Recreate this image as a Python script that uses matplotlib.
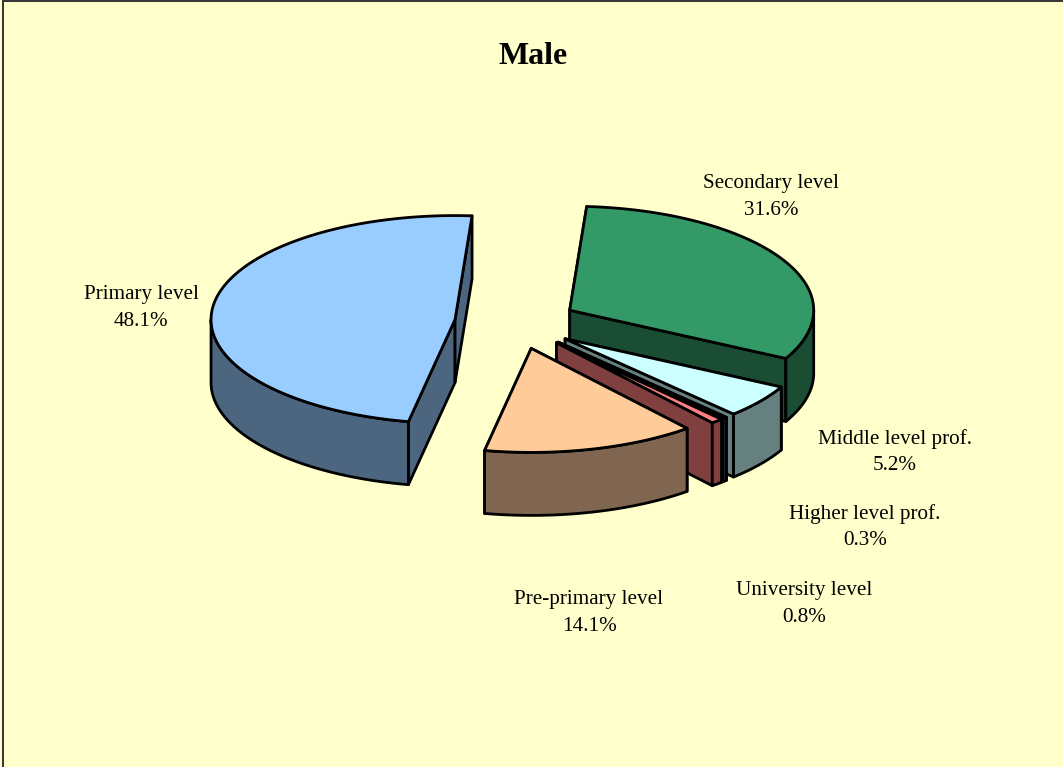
#!/usr/bin/env python3
# -*- coding: utf-8 -*-
"""Exploded 3D pie, education level, male"""
import numpy as np
import matplotlib.pyplot as plt
from matplotlib.patches import Polygon, Rectangle

# clockwise from the start angle
labels = ['Secondary level', 'Middle level prof.', 'Higher level prof.',
          'University level', 'Pre-primary level', 'Primary level']
values = [31.6, 5.2, 0.3, 0.8, 14.1, 48.1]
top_colors = ['#339966', '#CCFFFF', '#666699', '#FF8080', '#FFCC99', '#99CCFF']
side_colors = ['#1A4D33', '#668080', '#33334D', '#804040', '#806650', '#4D6680']
label_pos = [(771, 197), (895, 452), (865, 527), (804, 604), (589, 613), (141, 308)]

# projection of the pie in pixels
cx, cy = 516, 323
rx, ry = 244, 104
depth = 63
explode = 0.252
start = 4.0
lw = 2.0

plt.rcParams['font.family'] = ['Liberation Serif', 'DejaVu Serif']

fig = plt.figure(figsize=(10.63, 7.67), dpi=100, facecolor='#FFFFCC')
ax = fig.add_axes([0, 0, 1, 1])
ax.set_xlim(0, 1063)
ax.set_ylim(767, 0)
ax.axis('off')

# figure border, bottom and right run off the picture
ax.add_patch(Rectangle((2.5, 0.5), 1100, 800, fc='#FFFFCC', ec='#333333', lw=1.4, zorder=0))


def ell(t):
    t = np.radians(t)
    return rx * np.sin(t), -ry * np.cos(t)


def add_poly(pts, fc, z):
    ax.add_patch(Polygon(pts, closed=True, fc=fc, ec='black', lw=lw, joinstyle='round', zorder=z))


total = sum(values)
sweeps = [v / total * 360 for v in values]
t0 = start
z = 1
for v, sweep, top, side in zip(values, sweeps, top_colors, side_colors):
    t1 = t0 + sweep
    mid = (t0 + t1) / 2
    ox, oy = ell(mid)
    x0, y0 = cx + explode * ox, cy + explode * oy

    # cut faces
    for t in (t0, t1):
        ex, ey = ell(t)
        add_poly([(x0, y0), (x0 + ex, y0 + ey), (x0 + ex, y0 + ey + depth), (x0, y0 + depth)], side, z)
        z += 1

    # outer wall, only the front half of the rim
    a, b = max(t0, 90), min(t1, 270)
    if b > a:
        ts = np.linspace(a, b, 120)
        ex, ey = ell(ts)
        upper = np.column_stack([x0 + ex, y0 + ey])
        lower = np.column_stack([x0 + ex, y0 + ey + depth])[::-1]
        add_poly(np.vstack([upper, lower]), side, z)
        z += 1

    # top face
    ts = np.linspace(t0, t1, 200)
    ex, ey = ell(ts)
    add_poly(np.vstack([[(x0, y0)], np.column_stack([x0 + ex, y0 + ey])]), top, z)
    z += 1
    t0 = t1

for name, v, (x, y) in zip(labels, values, label_pos):
    ax.text(x, y, '%s\n%.1f%%' % (name, v), ha='center', va='center', fontsize=15.2,
            linespacing=1.55, color='black', zorder=100)

ax.text(533.5, 56, 'Male', ha='center', va='center', fontsize=23, fontweight='bold', color='black')

plt.savefig('out.png', dpi=100, facecolor=fig.get_facecolor())
